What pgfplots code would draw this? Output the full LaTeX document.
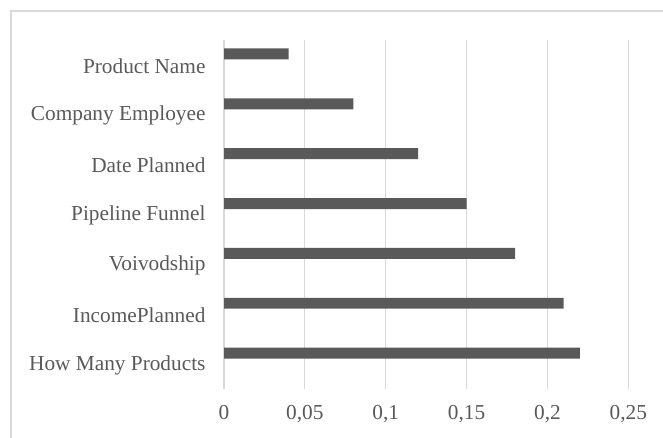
\documentclass[border=0pt]{standalone}
\usepackage{fontspec}
\setmainfont{Liberation Serif}
\usepackage{pgfplots}
\pgfplotsset{compat=1.18}
\definecolor{barfill}{HTML}{595959}
\definecolor{gridgray}{HTML}{D9D9D9}
\definecolor{labelgray}{HTML}{595959}

\begin{document}
\begin{tikzpicture}[x=1pt,y=1pt]
\path[use as bounding box] (0,0) rectangle (663,438);
% chart frame
\begin{scope}
\clip (0,0) rectangle (663,438);
\draw[gridgray, line width=1.2pt] (11,-20) -- (11,427) -- (700,427);
\end{scope}
\begin{axis}[
  at={(224pt,49pt)}, anchor=south west,
  scale only axis, width=404.3pt, height=349pt,
  xmin=0, xmax=0.25, ymin=-0.5, ymax=6.5,
  xtick={0,0.05,0.1,0.15,0.2,0.25},
  ytick={0,1,2,3,4,5,6},
  yticklabels={How Many Products, IncomePlanned, Voivodship, Pipeline Funnel, Date Planned, Company Employee, Product Name},
  axis line style={draw=none},
  major tick length=0pt,
  xmajorgrids, ymajorgrids=false,
  grid style={gridgray, line width=1.2pt},
  tick label style={font=\fontsize{21.3}{25}\selectfont, text=labelgray},
  xticklabel style={yshift=-13pt},
  yticklabel style={xshift=-15pt, yshift=-1pt},
  /pgf/number format/use comma,
  /pgf/number format/fixed,
  /pgf/number format/assume math mode=true,
  clip=false,
]
\addplot[xbar, bar width=0.22, bar shift=0pt, fill=barfill, draw=none]
  coordinates {(0.22,0.22) (0.21,1.22) (0.18,2.22) (0.15,3.22) (0.12,4.22) (0.08,5.22) (0.04,6.22)};
\end{axis}
\end{tikzpicture}
\end{document}
